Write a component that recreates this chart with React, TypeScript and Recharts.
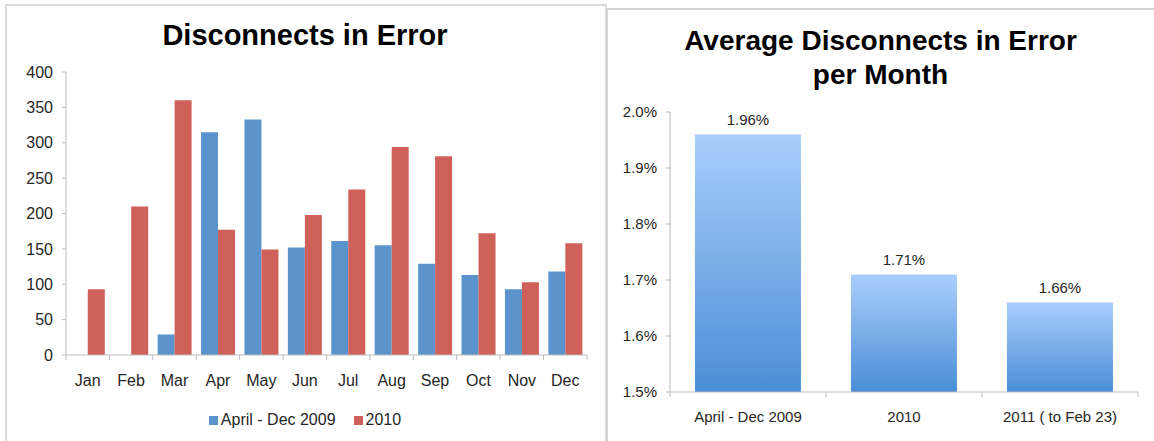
import React from 'react'
import { BarChart, Bar, XAxis, YAxis, LabelList } from 'recharts'

// monthly disconnects
const months = ['Jan', 'Feb', 'Mar', 'Apr', 'May', 'Jun', 'Jul', 'Aug', 'Sep', 'Oct', 'Nov', 'Dec']
const series2009 = [null, null, 29, 315, 333, 152, 161, 155, 129, 113, 93, 118]
const series2010 = [93, 210, 360, 177, 149, 198, 234, 294, 281, 172, 103, 158]
const seriesNames = ['April - Dec 2009', '2010']
const leftTicks = [0, 50, 100, 150, 200, 250, 300, 350, 400]

// averages per month (percent)
const periods = ['April - Dec 2009', '2010', '2011 ( to Feb 23)']
const avgValues = [1.96, 1.71, 1.66]
const rightTicks = [1.5, 1.6, 1.7, 1.8, 1.9, 2.0]

const monthData = months.map((m, i) => ({ month: m, s2009: series2009[i], s2010: series2010[i] }))
const avgData = periods.map((p, i) => ({ period: p, value: avgValues[i] }))

const FONT = "'Liberation Sans', Arial, sans-serif"
const TEXT = '#262626'
const AXIS = '#bdbdbd'
const BLUE = '#5b94cd'
const RED = '#cf605a'

const LEFT_W = 605
const LEFT_M = { top: 72, right: 18, bottom: 56, left: 0 }
const LEFT_YW = 66
const leftBand = (LEFT_W - LEFT_M.left - LEFT_M.right - LEFT_YW) / months.length

const RIGHT_X = 600
const RIGHT_W = 554
const RIGHT_M = { top: 112, right: 16, bottom: 19, left: 0 }
const RIGHT_YW = 70
const rightBand = (RIGHT_W - RIGHT_M.left - RIGHT_M.right - RIGHT_YW) / periods.length

function makeTick(band: number, count: number, fontSize: number) {
    return (props: any) => {
        const { x, y, payload, index } = props
        return (
            <g>
                <line x1={x - band / 2} x2={x - band / 2} y1={y} y2={y + 5} stroke={AXIS} />
                {index === count - 1 && (
                    <line x1={x + band / 2} x2={x + band / 2} y1={y} y2={y + 5} stroke={AXIS} />
                )}
                <text x={x} y={y + 25} dy="0.355em" textAnchor="middle" fill={TEXT}
                    fontSize={fontSize} fontFamily={FONT}>{payload.value}</text>
            </g>
        )
    }
}

export default function App() {
    return (
        <div style={{ position: 'fixed', top: 0, left: 0, width: 1154, height: 441, background: '#fff', overflow: 'hidden', fontFamily: FONT }}>
            {/* panel frames */}
            <div style={{ position: 'absolute', left: 5, top: 4, width: 598, height: 460, border: '2px solid #dadada' }} />
            <div style={{ position: 'absolute', left: 606, top: 8, width: 560, height: 460, borderTop: '2px solid #d4d4d4', borderLeft: '2px solid #d4d4d4' }} />

            {/* left chart */}
            <div style={{ position: 'absolute', left: 5, width: 600, top: 19, textAlign: 'center', fontWeight: 'bold', fontSize: 29, color: '#000' }}>
                Disconnects in Error
            </div>
            <div style={{ position: 'absolute', left: 0, top: 0 }}>
                <BarChart width={LEFT_W} height={441} data={monthData} margin={LEFT_M} barCategoryGap="11%" barGap={0}>
                    <XAxis dataKey="month" stroke={AXIS} tickSize={0} tickMargin={0} height={30}
                        tick={makeTick(leftBand, months.length, 16)} interval={0} />
                    <YAxis width={LEFT_YW} domain={[0, 400]} ticks={leftTicks} stroke={AXIS} tickSize={4} tickMargin={9}
                        tick={{ fill: TEXT, fontSize: 16, fontFamily: FONT }} />
                    <Bar dataKey="s2009" name={seriesNames[0]} fill={BLUE} isAnimationActive={false} />
                    <Bar dataKey="s2010" name={seriesNames[1]} fill={RED} isAnimationActive={false} />
                </BarChart>
            </div>
            <div style={{ position: 'absolute', left: 5, width: 600, top: 411, display: 'flex', justifyContent: 'center', alignItems: 'center', fontSize: 16, color: TEXT }}>
                {seriesNames.map((name, i) => (
                    <span key={name} style={{ display: 'flex', alignItems: 'center', marginRight: i === 0 ? 18 : 0 }}>
                        <span style={{ width: 9, height: 9, background: i === 0 ? BLUE : RED, marginRight: 3 }} />
                        {name}
                    </span>
                ))}
            </div>

            {/* right chart */}
            <div style={{ position: 'absolute', left: 607, width: 547, top: 24, textAlign: 'center', fontWeight: 'bold', fontSize: 28, lineHeight: '34px', color: '#000' }}>
                Average Disconnects in Error<br />per Month
            </div>
            <div style={{ position: 'absolute', left: RIGHT_X, top: 0 }}>
                <BarChart width={RIGHT_W} height={441} data={avgData} margin={RIGHT_M} barCategoryGap="16%">
                    <defs>
                        <linearGradient id="avgGrad" x1="0" y1="0" x2="0" y2="1">
                            <stop offset="0%" stopColor="#aacefc" />
                            <stop offset="100%" stopColor="#4a8ed6" />
                        </linearGradient>
                    </defs>
                    <XAxis dataKey="period" stroke={AXIS} tickSize={0} tickMargin={0} height={30}
                        tick={makeTick(rightBand, periods.length, 15)} interval={0} />
                    <YAxis width={RIGHT_YW} domain={[1.5, 2.0]} ticks={rightTicks} stroke={AXIS} tickSize={4} tickMargin={9}
                        tickFormatter={(v: number) => v.toFixed(1) + '%'}
                        tick={{ fill: TEXT, fontSize: 15, fontFamily: FONT }} />
                    <Bar dataKey="value" fill="url(#avgGrad)" isAnimationActive={false}>
                        <LabelList dataKey="value" position="top" offset={9} fill={TEXT} fontSize={15} fontFamily={FONT}
                            formatter={(v: any) => Number(v).toFixed(2) + '%'} />
                    </Bar>
                </BarChart>
            </div>
        </div>
    )
}
